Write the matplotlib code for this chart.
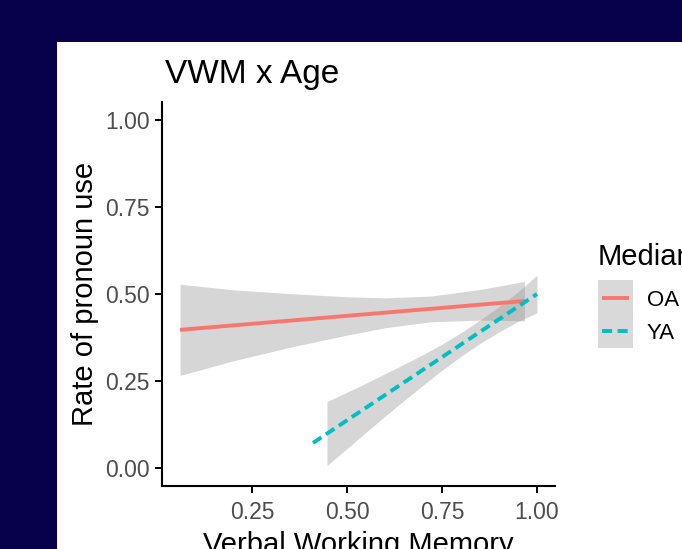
"""VWM x Age: rate of pronoun use vs verbal working memory, OA vs YA (lm fits + CI)."""
import matplotlib
matplotlib.use("Agg")
import matplotlib.pyplot as plt
from matplotlib.patches import Rectangle
from matplotlib.lines import Line2D

plt.rcParams["font.family"] = ["Liberation Sans", "DejaVu Sans"]

W, H = 682, 549
NAVY = "#07004A"
OA_COL = "#F8766D"
YA_COL = "#00BFC4"
LW = 2.8
DASH = (0, (2.6, 1.4))

# fitted lines (endpoints of the lm fit)
oa_x = [0.06, 0.967]
oa_y = [0.397, 0.480]
ya_x = [0.41, 1.0]
ya_y = [0.072, 0.500]

# confidence ribbons
oa_band_x = [0.06, 0.20, 0.35, 0.50, 0.60, 0.72, 0.85, 0.967]
oa_band_hi = [0.528, 0.512, 0.501, 0.492, 0.489, 0.494, 0.513, 0.536]
oa_band_lo = [0.266, 0.308, 0.347, 0.382, 0.403, 0.420, 0.425, 0.423]

ya_band_x = [0.447, 0.50, 0.55, 0.60, 0.65, 0.70, 0.75, 0.80, 0.85, 0.90, 0.95, 1.0]
ya_band_hi = [0.191, 0.218, 0.244, 0.271, 0.298, 0.326, 0.356, 0.389, 0.425, 0.464, 0.506, 0.554]
ya_band_lo = [0.007, 0.056, 0.103, 0.149, 0.194, 0.238, 0.281, 0.321, 0.358, 0.391, 0.421, 0.446]

ticks = [0.00, 0.25, 0.50, 0.75, 1.00]
x_ticks = [0.25, 0.50, 0.75, 1.00]
groups = ["OA", "YA"]


def fx(px):
    return px / W


def fy(py):
    return 1 - py / H


fig = plt.figure(figsize=(W / 100, H / 100), dpi=100, facecolor=NAVY)
# white slide panel (behind everything)
fig.patches.append(Rectangle((fx(57), 0), 1 - fx(57), fy(42), transform=fig.transFigure,
                             facecolor="white", edgecolor="none", zorder=-10))

ax = fig.add_axes([fx(162), fy(486), fx(555) - fx(162), fy(102) - fy(486)])
ax.set_facecolor("none")

ax.fill_between(oa_band_x, oa_band_lo, oa_band_hi, color="#999999", alpha=0.4, lw=0)
ax.fill_between(ya_band_x, ya_band_lo, ya_band_hi, color="#999999", alpha=0.4, lw=0)
ax.plot(oa_x, oa_y, color=OA_COL, lw=LW, solid_capstyle="butt")
ax.plot(ya_x, ya_y, color=YA_COL, lw=LW, linestyle=DASH, dash_capstyle="butt")

ax.set_xlim(0.0124, 1.0475)
ax.set_ylim(-0.0517, 1.0517)
ax.set_xticks(x_ticks)
ax.set_xticklabels([f"{t:.2f}" for t in x_ticks])
ax.set_yticks(ticks)
ax.set_yticklabels([f"{t:.2f}" for t in ticks])
ax.tick_params(axis="both", length=5, width=1.4, color="black", labelsize=16.5,
               labelcolor="#4D4D4D")
ax.tick_params(axis="x", pad=6)
ax.tick_params(axis="y", pad=3.6)
for side in ["top", "right"]:
    ax.spines[side].set_visible(False)
for side in ["left", "bottom"]:
    ax.spines[side].set_linewidth(1.5)
    ax.spines[side].set_capstyle("projecting")

fig.text(fx(165), fy(83), "VWM x Age", fontsize=24, color="black", va="baseline", ha="left")
fig.text(fx(85), fy(294), "Rate of pronoun use", fontsize=21, rotation=90,
         ha="center", va="center", color="black")
fig.text(fx(358.5), fy(553), "Verbal Working Memory", fontsize=21, ha="center",
         va="baseline", color="black")

# legend, drawn by hand
fig.text(fx(598), fy(265), "Median", fontsize=21, va="baseline", ha="left", color="black")
fig.patches.append(Rectangle((fx(598), fy(348)), fx(633) - fx(598), fy(280) - fy(348),
                             transform=fig.transFigure, facecolor="#D9D9D9",
                             edgecolor="none", zorder=1))
key_y = [298, 331]
key_style = [dict(color=OA_COL, lw=LW, solid_capstyle="butt"),
             dict(color=YA_COL, lw=LW, linestyle=DASH, dash_capstyle="butt")]
for g, ky, st in zip(groups, key_y, key_style):
    fig.lines.append(Line2D([fx(602), fx(629)], [fy(ky), fy(ky)],
                            transform=fig.transFigure, zorder=2, **st))
    fig.text(fx(647), fy(ky + 8), g, fontsize=16, va="baseline", ha="left", color="black")

fig.savefig("out.png", dpi=100, facecolor=NAVY)
